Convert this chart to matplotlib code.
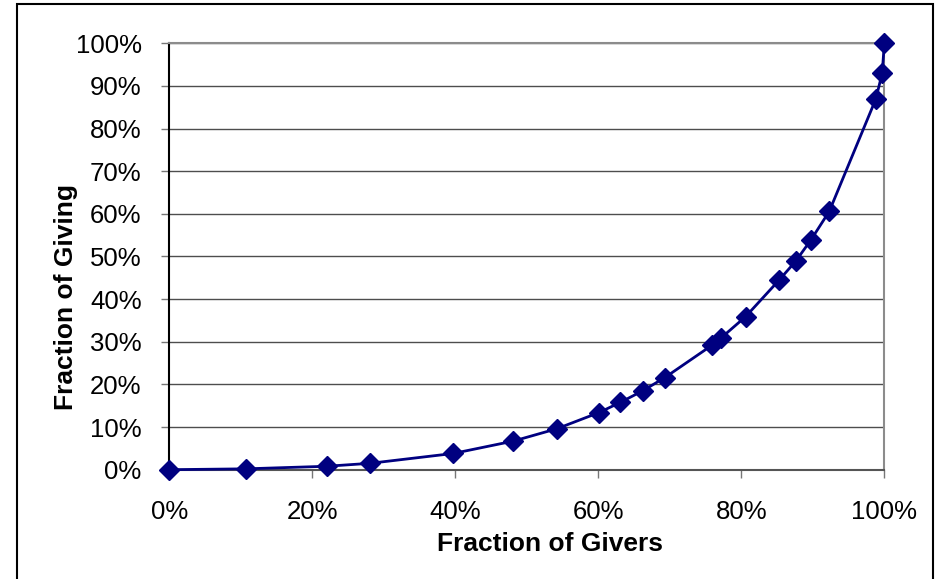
import matplotlib
matplotlib.use("Agg")
import matplotlib.pyplot as plt
from matplotlib.patches import Rectangle
from matplotlib.ticker import PercentFormatter

plt.rcParams['font.family'] = ['Liberation Sans', 'DejaVu Sans']

# fração cumulativa de doadores vs fração cumulativa das doações (%)
givers = [0.0, 10.7, 22.0, 28.1, 39.7, 48.1, 54.2, 60.1, 63.1, 66.2, 69.3,
          75.9, 77.1, 80.6, 85.3, 87.6, 89.7, 92.3, 98.8, 99.7, 100.0]
giving = [0.0, 0.2, 0.8, 1.5, 3.8, 6.7, 9.6, 13.4, 15.8, 18.5, 21.6,
          29.2, 30.8, 35.9, 44.5, 48.9, 53.8, 60.6, 86.9, 93.0, 100.0]

x_ticks = [0, 20, 40, 60, 80, 100]
y_ticks = [0, 10, 20, 30, 40, 50, 60, 70, 80, 90, 100]

fig = plt.figure(figsize=(9.39, 5.79), dpi=100)
ax = fig.add_axes([0.1803, 0.1888, 0.7615, 0.7364])

ax.plot(givers, giving, color='#000080', linewidth=2.0, marker='D',
        markersize=10, markerfacecolor='#000080', markeredgecolor='#000080',
        clip_on=False, zorder=3)

ax.set_xlim(0, 100)
ax.set_ylim(0, 100)
ax.set_xticks(x_ticks)
ax.set_yticks(y_ticks)
ax.xaxis.set_major_formatter(PercentFormatter(decimals=0))
ax.yaxis.set_major_formatter(PercentFormatter(decimals=0))

ax.grid(axis='y', color='#4d4d4d', linewidth=1.0)
ax.set_axisbelow(True)

ax.spines['left'].set_color('black')
ax.spines['bottom'].set_color('#555555')
ax.spines['top'].set_color('#8c8c8c')
ax.spines['right'].set_color('#8c8c8c')
for s in ax.spines.values():
    s.set_linewidth(1.5)

ax.tick_params(axis='both', direction='out', length=6, width=1.0,
               color='#777777', labelsize=18.5, labelcolor='black')
ax.tick_params(axis='x', pad=16)
ax.tick_params(axis='y', pad=14)

# os rótulos dos eixos no original não ficam centrados na área do gráfico
ax.set_xlabel('Fraction of Givers', fontsize=19, fontweight='bold')
ax.set_ylabel('Fraction of Giving', fontsize=19, fontweight='bold')
ax.xaxis.set_label_coords(0.532, -0.146)
ax.yaxis.set_label_coords(-0.127, 0.406)

# moldura externa do gráfico
fig.patches.append(Rectangle((17 / 939, -0.01), (933 - 17) / 939, 1 - 4 / 579 + 0.01,
                             transform=fig.transFigure, fill=False,
                             edgecolor='black', linewidth=1.5))

fig.savefig('out.png', dpi=100)
